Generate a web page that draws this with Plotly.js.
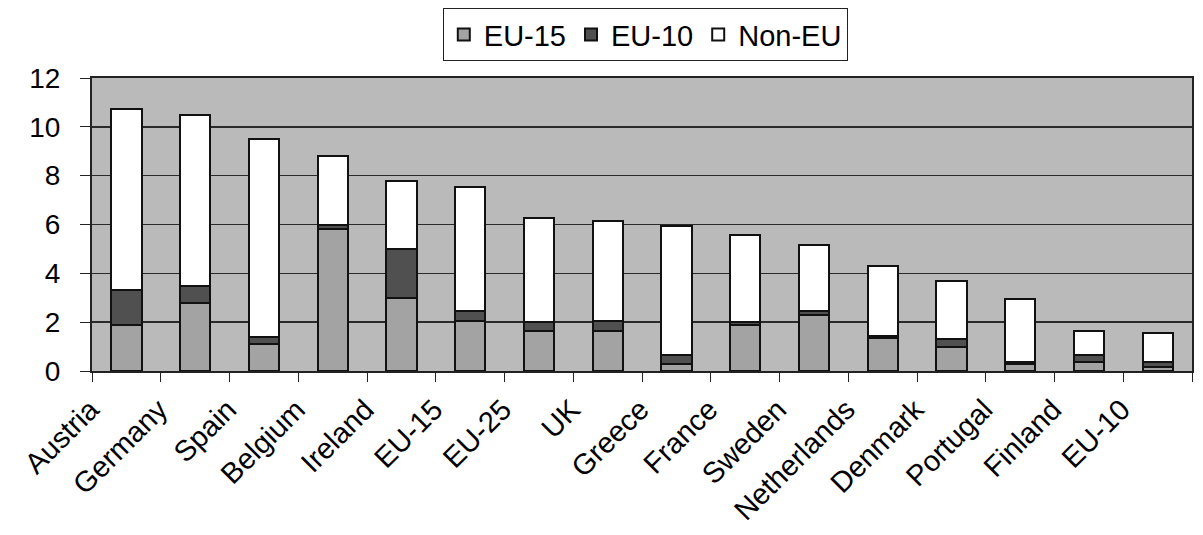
<!DOCTYPE html>
<html>
<head>
<meta charset="utf-8">
<script src="https://cdn.plot.ly/plotly-3.0.1.min.js"></script>
<style>html,body{margin:0;padding:0;background:#fff;}#chart{width:1203px;height:535px;}</style>
</head>
<body>
<div id="chart"></div>
<script>
const categories = ["Austria","Germany","Spain","Belgium","Ireland","EU-15","EU-25","UK","Greece","France","Sweden","Netherlands","Denmark","Portugal","Finland","EU-10"];
const eu15  = [1.9, 2.8, 1.1, 5.8, 3.0, 2.05, 1.65, 1.65, 0.27, 1.9, 2.3, 1.35, 1.0, 0.28, 0.35, 0.18];
const eu10  = [1.4, 0.7, 0.3, 0.2, 2.0, 0.4, 0.35, 0.4, 0.4, 0.1, 0.15, 0.1, 0.3, 0.08, 0.3, 0.18];
const nonEu = [7.45, 7.0, 8.1, 2.8, 2.8, 5.1, 4.25, 4.1, 5.25, 3.55, 2.7, 2.85, 2.4, 2.6, 1.0, 1.2];
const yTicks = [0, 2, 4, 6, 8, 10, 12];

const outline = {color: "#111", width: 2};
const traces = [
  {name: "EU-15", x: categories, y: eu15, type: "bar", marker: {color: "#a3a3a3", line: outline}},
  {name: "EU-10", x: categories, y: eu10, type: "bar", marker: {color: "#505050", line: outline}},
  {name: "Non-EU", x: categories, y: nonEu, type: "bar", marker: {color: "#ffffff", line: outline}}
];

const font = {family: "Liberation Sans, Arial, sans-serif", size: 28, color: "#000"};
const layout = {
  width: 1203, height: 535,
  margin: {l: 92, r: 11, t: 78, b: 164, pad: 0},
  barmode: "stack",
  bargap: 0.56,
  paper_bgcolor: "#ffffff",
  plot_bgcolor: "#bababa",
  font: font,
  showlegend: true,
  legend: {
    orientation: "h", traceorder: "normal",
    xref: "paper", x: 0.503, xanchor: "center",
    yref: "container", y: 0.985, yanchor: "top",
    bgcolor: "#ffffff", bordercolor: "#222", borderwidth: 1,
    font: {family: font.family, size: 29, color: "#000"},
    itemwidth: 30
  },
  xaxis: {
    type: "category",
    tickangle: -45,
    ticks: "outside", ticklen: 9, tickcolor: "#222", tickwidth: 1,
    tickson: "boundaries",
    showline: true, linecolor: "#222", linewidth: 2, mirror: true,
    showgrid: false,
    tickfont: {family: font.family, size: 29, color: "#000"},
    ticklabelshift: -36,
    ticklabelstandoff: 8,
    automargin: false,
    fixedrange: true
  },
  yaxis: {
    range: [0, 12],
    tickvals: yTicks,
    ticks: "outside", ticklen: 10, tickcolor: "#222", tickwidth: 1,
    showline: true, linecolor: "#222", linewidth: 2, mirror: true,
    showgrid: true, gridcolor: "#2a2a2a", gridwidth: 1.5,
    zeroline: false,
    tickfont: {family: font.family, size: 28, color: "#000"},
    ticklabelstandoff: 14,
    automargin: false,
    fixedrange: true
  }
};

Plotly.newPlot("chart", traces, layout, {displayModeBar: false, staticPlot: true});
</script>
</body>
</html>
